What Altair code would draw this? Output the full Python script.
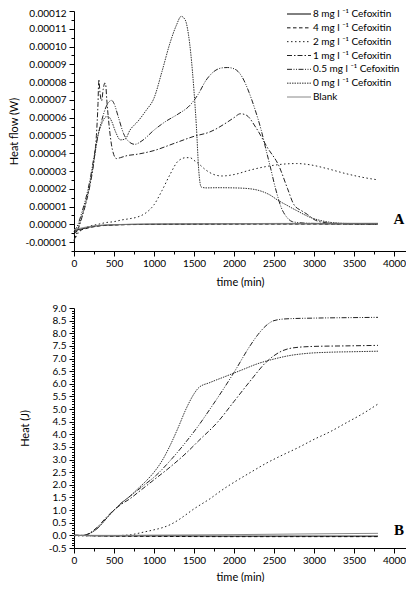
import altair as alt
import pandas as pd

# ---------------- series definitions ----------------
series_names = ["8 mg", "4 mg", "2 mg", "1 mg", "0.5 mg", "0 mg", "Blank"]
legend_labels = ["8 mg l \u207b\u00b9 Cefoxitin", "4 mg l \u207b\u00b9 Cefoxitin", "2 mg l \u207b\u00b9 Cefoxitin",
                 "1 mg l \u207b\u00b9 Cefoxitin", "0.5 mg l \u207b\u00b9 Cefoxitin", "0 mg l \u207b\u00b9 Cefoxitin", "Blank"]
dash_patterns = [[1, 0], [3.5, 2.5], [1.5, 2.5], [5, 2, 1.5, 2], [5, 1.5, 1, 1.5, 1, 1.5], [1.5, 1], [1, 0]]
line_colors = ["#000000", "#111111", "#222222", "#222222", "#222222", "#333333", "#888888"]

# ---------------- Panel A: heat flow (units of 1e-5 W) ----------------
A_t_0mg = [0, 50, 100, 150, 200, 250, 300, 350, 400, 430, 470, 520, 580, 640, 700, 800, 900, 1000, 1100, 1200,
           1280, 1340, 1390, 1430, 1460, 1500, 1530, 1560, 1590, 1650, 1800, 2000, 2200, 2350, 2450, 2550, 2650,
           2780, 2950, 3150, 3400, 3800]
A_v_0mg = [-0.6, -0.2, 0.5, 1.3, 2.3, 3.6, 5.0, 5.7, 6.05, 6.06, 5.8, 5.2, 4.75, 4.8, 5.3, 5.8, 6.4, 7.1, 8.6, 10.2,
           11.2, 11.7, 11.5, 10.7, 9.6, 7.5, 5.5, 3.0, 2.1, 2.05, 2.06, 2.05, 2.0, 1.85, 1.65, 1.35, 1.1,
           0.78, 0.4, 0.15, 0.05, 0.03]

A_t_05mg = [0, 50, 100, 150, 200, 250, 300, 350, 400, 440, 470, 500, 550, 620, 700, 760, 850, 1000, 1150, 1300,
            1450, 1550, 1650, 1750, 1850, 1920, 2000, 2050, 2100, 2190, 2260, 2340, 2400, 2450, 2520, 2590, 2660,
            2730, 2850, 3000, 3300, 3800]
A_v_05mg = [-0.4, 0.0, 0.7, 1.5, 2.5, 3.8, 5.0, 5.9, 6.6, 6.9, 6.97, 6.8, 6.1, 5.1, 4.6, 4.5, 4.7, 5.3, 5.8, 6.2,
            6.7, 7.3, 8.1, 8.6, 8.8, 8.82, 8.75, 8.6, 8.3, 7.4, 6.5, 5.3, 4.2, 3.3, 2.0, 0.95, 0.4,
            0.15, 0.08, 0.05, 0.03, 0.02]

A_t_1mg = [0, 50, 100, 150, 200, 250, 280, 300, 310, 325, 345, 365, 385, 395, 410, 440, 480, 530, 580, 650, 800,
           1000, 1250, 1500, 1700, 1900, 2000, 2080, 2150, 2280, 2420, 2560, 2670, 2750, 2850, 2920, 2990, 3100,
           3300, 3800]
A_v_1mg = [-0.9, -0.3, 0.4, 1.2, 2.2, 3.6, 5.0, 6.8, 8.15, 7.4, 6.95, 7.6, 7.95, 7.9, 7.0, 5.5, 4.2, 3.7, 3.75, 3.85,
           3.95, 4.15, 4.55, 4.95, 5.2, 5.7, 6.0, 6.22, 6.15, 5.4, 4.3, 3.3, 2.0, 1.1, 0.75, 0.55, 0.3, 0.12,
           0.05, 0.03]

A_t_2mg = [0, 50, 100, 200, 300, 400, 500, 600, 700, 800, 900, 1000, 1100, 1200, 1300, 1400, 1450, 1500, 1560,
           1650, 1750, 1850, 2000, 2200, 2400, 2600, 2780, 2950, 3150, 3400, 3600, 3800]
A_v_2mg = [-0.95, -0.5, -0.3, -0.1, 0.0, 0.1, 0.15, 0.25, 0.32, 0.42, 0.65, 1.1, 1.9, 2.8, 3.55, 3.75, 3.75, 3.6,
           3.4, 3.05, 2.8, 2.72, 2.8, 3.05, 3.25, 3.38, 3.42, 3.35, 3.15, 2.85, 2.65, 2.5]

A_t_flat = [0, 100, 200, 300, 500, 800, 1500, 2500, 3800]
A_v_8mg = [-0.35, -0.25, -0.15, -0.08, -0.03, 0.0, 0.02, 0.03, 0.03]
A_v_4mg = [-0.45, -0.3, -0.18, -0.1, -0.04, -0.01, 0.01, 0.02, 0.02]
A_v_blank = [-0.3, -0.2, -0.12, -0.06, -0.02, 0.01, 0.03, 0.05, 0.06]

# ---------------- Panel B: cumulative heat (J) ----------------
B_t_0mg = [0, 100, 150, 200, 300, 400, 500, 600, 700, 800, 900, 1000, 1100, 1200, 1300, 1400, 1500, 1560, 1700,
           1900, 2100, 2300, 2500, 2700, 2900, 3200, 3500, 3800]
B_v_0mg = [0, 0, 0.02, 0.08, 0.3, 0.65, 1.0, 1.3, 1.55, 1.85, 2.15, 2.5, 2.95, 3.55, 4.25, 5.0, 5.6, 5.85, 6.05,
           6.3, 6.55, 6.8, 6.98, 7.12, 7.2, 7.25, 7.27, 7.29]

B_t_05mg = [0, 100, 150, 200, 300, 400, 500, 600, 700, 800, 900, 1000, 1200, 1400, 1560, 1700, 1900, 2000, 2200,
            2300, 2400, 2500, 2650, 3000, 3500, 3800]
B_v_05mg = [0, 0, 0.02, 0.08, 0.3, 0.65, 1.0, 1.3, 1.55, 1.8, 2.05, 2.3, 2.95, 3.7, 4.36, 5.0, 5.95, 6.45, 7.5,
            7.95, 8.3, 8.5, 8.57, 8.6, 8.62, 8.63]

B_t_1mg = [0, 100, 150, 200, 300, 400, 500, 600, 700, 800, 900, 1000, 1200, 1400, 1560, 1800, 2000, 2200, 2400,
           2600, 2734, 3000, 3400, 3800]
B_v_1mg = [0, 0, 0.02, 0.1, 0.35, 0.7, 1.0, 1.25, 1.45, 1.7, 1.95, 2.2, 2.7, 3.25, 3.75, 4.5, 5.3, 6.1, 6.85,
           7.3, 7.42, 7.48, 7.5, 7.52]

B_t_2mg = [0, 500, 700, 800, 900, 1000, 1100, 1200, 1300, 1400, 1500, 1600, 1700, 1800, 1900, 2000, 2200, 2400,
           2600, 2800, 3000, 3200, 3400, 3600, 3800]
B_v_2mg = [-0.02, -0.01, 0.02, 0.08, 0.15, 0.22, 0.3, 0.42, 0.6, 0.82, 1.05, 1.25, 1.45, 1.68, 1.9, 2.1, 2.48,
           2.85, 3.17, 3.47, 3.8, 4.1, 4.45, 4.8, 5.2]

B_t_flat = [0, 500, 1000, 2000, 3000, 3800]
B_v_8mg = [0, -0.02, -0.02, -0.03, -0.03, -0.03]
B_v_4mg = [0, -0.03, -0.04, -0.05, -0.05, -0.05]
B_v_blank = [0, 0.0, 0.01, 0.03, 0.06, 0.08]

# ---------------- axis ticks ----------------
x_ticks = list(range(0, 4151, 250))
yA_ticks = [round(-1.5e-5 + i * 0.5e-5, 12) for i in range(28)]
yB_ticks = [round(-0.5 + i * 0.1, 2) for i in range(96)]


def frame(times, vals, name, k=1.0):
    return pd.DataFrame({"time": times, "value": [v * k for v in vals], "series": name})


dfA = pd.concat([
    frame(A_t_flat, A_v_8mg, "8 mg", 1e-5),
    frame(A_t_flat, A_v_4mg, "4 mg", 1e-5),
    frame(A_t_2mg, A_v_2mg, "2 mg", 1e-5),
    frame(A_t_1mg, A_v_1mg, "1 mg", 1e-5),
    frame(A_t_05mg, A_v_05mg, "0.5 mg", 1e-5),
    frame(A_t_0mg, A_v_0mg, "0 mg", 1e-5),
    frame(A_t_flat, A_v_blank, "Blank", 1e-5),
], ignore_index=True)

dfB = pd.concat([
    frame(B_t_flat, B_v_8mg, "8 mg"),
    frame(B_t_flat, B_v_4mg, "4 mg"),
    frame(B_t_2mg, B_v_2mg, "2 mg"),
    frame(B_t_1mg, B_v_1mg, "1 mg"),
    frame(B_t_05mg, B_v_05mg, "0.5 mg"),
    frame(B_t_0mg, B_v_0mg, "0 mg"),
    frame(B_t_flat, B_v_blank, "Blank"),
], ignore_index=True)

legend_df = pd.DataFrame({"series": series_names, "label": legend_labels})

W, H = 332, 240
color_enc = alt.Color("series:N", scale=alt.Scale(domain=series_names, range=line_colors), legend=None)
dash_enc = alt.StrokeDash("series:N", scale=alt.Scale(domain=series_names, range=dash_patterns), legend=None)

x_major_test = "datum.value % 500 === 0"


def x_enc(title_pad):
    return alt.X("time:Q", scale=alt.Scale(domain=[0, 4150], nice=False, zero=False),
                 axis=alt.Axis(values=x_ticks, format="d", title="time (min)", titlePadding=title_pad,
                               labelExpr=f"{x_major_test} ? datum.label : ''", labelFlush=False,
                               labelPadding=2,
                               tickSize={"condition": {"test": x_major_test, "value": 5}, "value": 3}))


yA_test = "abs(datum.value*1e5 - round(datum.value*1e5)) < 0.01"
yB_test = "abs(datum.value*2 - round(datum.value*2)) < 0.01"

linesA = alt.Chart(dfA).mark_line(strokeWidth=1, interpolate="monotone").encode(
    x=x_enc(8),
    y=alt.Y("value:Q", scale=alt.Scale(domain=[-1.5e-5, 1.2e-4], nice=False, zero=False),
            axis=alt.Axis(values=yA_ticks, title="Heat flow (W)", titlePadding=6, labelPadding=3,
                          labelFlush=True, labelFlushOffset=3,
                          labelExpr=f"{yA_test} ? replace(format(datum.value, '.5f'), '\u2212', '-') : ''",
                          tickSize={"condition": {"test": yA_test, "value": 5}, "value": 3})),
    color=color_enc, strokeDash=dash_enc, detail="series:N",
)

leg_y = alt.Y("series:N", sort=series_names,
              scale=alt.Scale(type="point", domain=series_names, range=[3, 86], padding=0), axis=None)
leg_rules = alt.Chart(legend_df).mark_rule(strokeWidth=1).encode(
    x=alt.value(213), x2=alt.value(237), y=leg_y, color=color_enc, strokeDash=dash_enc)
leg_text = alt.Chart(legend_df).mark_text(align="left", baseline="middle", fontSize=10, font="Lato",
                                          color="black").encode(
    x=alt.value(239), y=leg_y, text="label:N")

letterA = alt.Chart(pd.DataFrame({"t": ["A"]})).mark_text(
    font="Liberation Serif", fontWeight="bold", fontSize=15, color="black").encode(
    x=alt.value(325), y=alt.value(208), text="t:N")

chartA = alt.layer(linesA, leg_rules, leg_text, letterA).resolve_scale(y="independent").properties(
    width=W, height=H)

linesB = alt.Chart(dfB).mark_line(strokeWidth=1, interpolate="monotone").encode(
    x=x_enc(6),
    y=alt.Y("value:Q", scale=alt.Scale(domain=[-0.5, 9.0], nice=False, zero=False),
            axis=alt.Axis(values=yB_ticks, title="Heat (J)", titlePadding=18, labelPadding=3,
                          labelExpr=f"{yB_test} ? replace(format(datum.value, '.1f'), '\u2212', '-') : ''",
                          tickSize={"condition": {"test": yB_test, "value": 5}, "value": 2.5})),
    color=color_enc, strokeDash=dash_enc, detail="series:N",
)
letterB = alt.Chart(pd.DataFrame({"t": ["B"]})).mark_text(
    font="Liberation Serif", fontWeight="bold", fontSize=15, color="black").encode(
    x=alt.value(325), y=alt.value(222), text="t:N")

chartB = alt.layer(linesB, letterB).properties(width=W, height=H)

chart = alt.vconcat(chartA, chartB, spacing=57, bounds="flush").properties(padding=0).configure_axis(
    labelFont="Lato", titleFont="Lato", labelFontSize=10, titleFontSize=11, titleFontWeight="normal",
    labelColor="black", titleColor="black", domainColor="black", tickColor="black", grid=False,
    domainWidth=1, tickWidth=1,
).configure_view(stroke=None)

chart.save("out.html", embed_options={"renderer": "svg", "actions": False})
